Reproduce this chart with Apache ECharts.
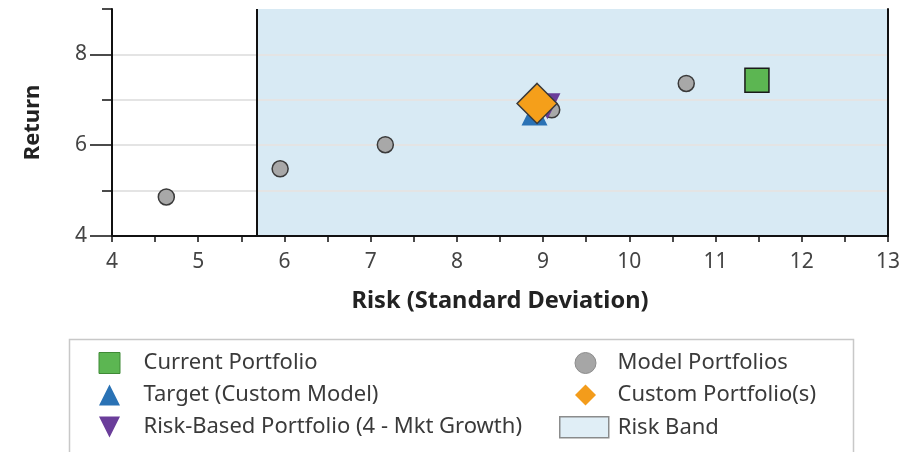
<!DOCTYPE html>
<html>
<head>
<meta charset="utf-8">
<script src="https://cdn.jsdelivr.net/npm/echarts@6/dist/echarts.min.js"></script>
<style>html,body{margin:0;padding:0;background:#fff;}#c{width:921px;height:452px;}</style>
</head>
<body>
<div id="c"></div>
<script>
// ---- data ----
const modelRisk = [4.63, 5.95, 7.17, 9.10, 10.66];
const modelReturn = [4.86, 5.48, 6.01, 6.78, 7.36];
const currentPortfolio = [11.48, 7.43];
const targetPortfolio = [8.90, 6.72];
const riskBasedPortfolio = [9.05, 6.86];
const customPortfolio = [8.93, 6.92];
const riskBand = [5.68, 13];
const xRange = [4, 13];
const yRange = [4, 9];
const yTickLabels = [4, 6, 8];

const FONT = 'Noto Sans';
const chart = echarts.init(document.getElementById('c'));

const modelData = modelRisk.map((r, i) => [r, modelReturn[i]]);

const legendText = (padLeft) => ({ fontFamily: FONT, fontSize: 22, color: '#3a3a3a', padding: [0, 0, 0, padLeft] });

const option = {
  animation: false,
  textStyle: { fontFamily: FONT },
  grid: { left: 112, right: 33, top: 9, bottom: 216, containLabel: false },
  xAxis: {
    type: 'value', min: xRange[0], max: xRange[1], interval: 1,
    name: 'Risk (Standard Deviation)', nameLocation: 'middle', nameGap: 53,
    nameTextStyle: { fontFamily: FONT, fontSize: 23.6, fontWeight: 'bold', color: '#222' },
    axisLine: { show: true, lineStyle: { color: '#111', width: 2 } },
    axisTick: { show: true, length: 6, lineStyle: { color: '#111', width: 1.5 } },
    minorTick: { show: true, splitNumber: 2, length: 6, lineStyle: { color: '#111', width: 1.5 } },
    axisLabel: { fontFamily: FONT, fontSize: 21, color: '#444', margin: 16 },
    splitLine: { show: false }
  },
  yAxis: [
    {
      type: 'value', min: yRange[0], max: yRange[1], interval: 1, position: 'left',
      name: 'Return', nameLocation: 'middle', nameGap: 68, nameRotate: 90,
      nameTextStyle: { fontFamily: FONT, fontSize: 22, fontWeight: 'bold', color: '#222' },
      axisLine: { show: true, lineStyle: { color: '#111', width: 2 } },
      axisTick: { show: true, length: 10, lineStyle: { color: '#111', width: 1.5 } },
      axisLabel: { fontFamily: FONT, fontSize: 21, color: '#444', margin: 25, customValues: yTickLabels },
      splitLine: { show: true, showMaxLine: false, showMinLine: false, lineStyle: { color: '#e4e4e4', width: 2 } }
    },
    {
      type: 'value', min: yRange[0], max: yRange[1], interval: 1, position: 'left',
      axisLine: { show: false },
      axisTick: { show: true, length: 22, customValues: yTickLabels, lineStyle: { color: '#111', width: 1.5 } },
      axisLabel: { show: false },
      splitLine: { show: false }
    },
    {
      type: 'value', min: yRange[0], max: yRange[1], interval: 1, position: 'right',
      axisLine: { show: true, lineStyle: { color: '#111', width: 2 } },
      axisTick: { show: false }, axisLabel: { show: false }, splitLine: { show: false }
    }
  ],
  legend: [
    {
      orient: 'vertical', left: 98.5, top: 352, padding: 0, itemWidth: 21, itemHeight: 21, itemGap: 10,
      selectedMode: false,
      textStyle: legendText(18.5),
      data: [
        { name: 'Current Portfolio', icon: 'rect', itemStyle: { color: '#5cb652', borderColor: '#3f8a36', borderWidth: 1 } },
        { name: 'Target (Custom Model)', icon: 'triangle', itemStyle: { color: '#2a72b5', borderWidth: 0 } },
        { name: 'Risk-Based Portfolio (4 - Mkt Growth)', icon: 'path://M0,0L20,0L10,20Z', itemStyle: { color: '#6a3d9a', borderWidth: 0 } }
      ]
    },
    {
      orient: 'vertical', left: 574.5, top: 352, padding: 0, itemWidth: 21, itemHeight: 21, itemGap: 10,
      selectedMode: false,
      textStyle: legendText(16.5),
      data: [
        { name: 'Model Portfolios', icon: 'circle', itemStyle: { color: '#a6a6a6', borderColor: '#8c8c8c', borderWidth: 1 } },
        { name: 'Custom Portfolio(s)', icon: 'diamond', itemStyle: { color: '#f39c1b', borderWidth: 0 } }
      ]
    },
    {
      orient: 'vertical', left: 559, top: 416, padding: 0, itemWidth: 49, itemHeight: 21,
      selectedMode: false,
      textStyle: legendText(4),
      data: [
        { name: 'Risk Band', icon: 'rect', itemStyle: { color: '#d8eaf4', borderColor: '#707070', borderWidth: 1.5 } }
      ]
    }
  ],
  graphic: [
    { type: 'rect', left: 67, top: 337, shape: { width: 784, height: 140 }, style: { fill: 'none', stroke: '#c8c8c8', lineWidth: 1.5 }, silent: true }
  ],
  series: [
    {
      name: 'Risk Band', type: 'scatter', data: [], silent: true,
      itemStyle: { color: '#d8eaf4' },
      markArea: {
        z: -1, silent: true,
        itemStyle: { color: '#d8eaf4' },
        data: [[{ xAxis: riskBand[0] }, { xAxis: riskBand[1] }]]
      },
      markLine: {
        silent: true, symbol: 'none', label: { show: false },
        lineStyle: { color: '#111', width: 2, type: 'solid' },
        data: [{ xAxis: riskBand[0] }]
      }
    },
    {
      name: 'Model Portfolios', type: 'scatter', data: modelData, symbol: 'circle', symbolSize: 16,
      itemStyle: { color: '#a8a8a8', borderColor: '#3a3a3a', borderWidth: 1.5, opacity: 1 }
    },
    {
      name: 'Target (Custom Model)', type: 'scatter', data: [targetPortfolio], symbol: 'triangle', symbolSize: 26,
      itemStyle: { color: '#2a72b5', opacity: 1 }
    },
    {
      name: 'Risk-Based Portfolio (4 - Mkt Growth)', type: 'scatter', data: [riskBasedPortfolio],
      symbol: 'triangle', symbolRotate: 180, symbolSize: 26,
      itemStyle: { color: '#6a3d9a', opacity: 1 }
    },
    {
      name: 'Custom Portfolio(s)', type: 'scatter', data: [customPortfolio], symbol: 'diamond', symbolSize: 40,
      itemStyle: { color: '#f59f1a', borderColor: '#3a3a3a', borderWidth: 1.5, opacity: 1 }
    },
    {
      name: 'Current Portfolio', type: 'scatter', data: [currentPortfolio], symbol: 'rect', symbolSize: 24,
      itemStyle: { color: '#5cb652', borderColor: '#1a1a1a', borderWidth: 1.5, opacity: 1 }
    }
  ]
};
chart.setOption(option);
</script>
</body>
</html>
